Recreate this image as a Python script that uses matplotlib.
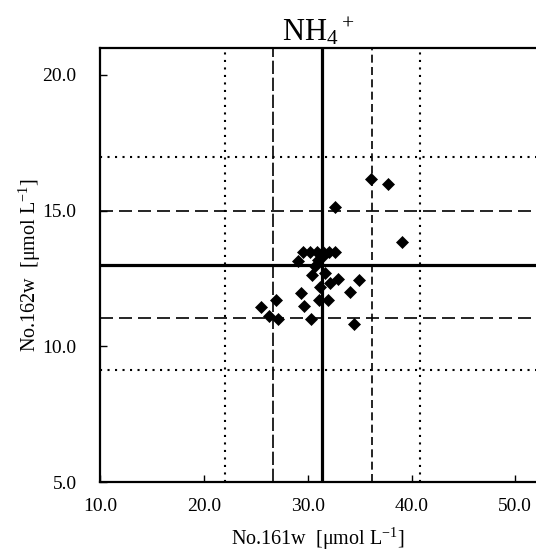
import matplotlib
matplotlib.use("Agg")
import matplotlib.pyplot as plt

plt.rcParams['font.family'] = ['Liberation Serif', 'DejaVu Serif']
plt.rcParams['mathtext.fontset'] = 'custom'
plt.rcParams['mathtext.rm'] = 'Liberation Serif'
plt.rcParams['mathtext.it'] = 'Liberation Serif:italic'

# No.161w (x) vs No.162w (y), umol/L
x161 = [36.08, 37.69, 32.64, 39.04, 29.50, 30.20, 30.85, 31.43, 32.06, 32.61,
        29.05, 31.00, 31.48, 30.68, 30.37, 31.65, 32.93, 32.13, 34.92, 31.17,
        29.34, 34.06, 31.10, 31.97, 26.90, 29.65, 25.45, 26.28, 27.09, 30.30,
        34.44]
y162 = [16.15, 15.96, 15.15, 13.84, 13.49, 13.49, 13.49, 13.49, 13.49, 13.49,
        13.16, 13.20, 13.32, 12.95, 12.64, 12.72, 12.50, 12.34, 12.46, 12.20,
        11.97, 12.02, 11.70, 11.70, 11.70, 11.50, 11.47, 11.13, 11.01, 11.01,
        10.82]

# reference lines: mean, +-2 sd (dashed), +-4 sd (dotted)
x_mean = 31.33
x_dash = [26.67, 36.20]
x_dot = [22.04, 40.85]
y_mean = 12.98
y_dash = [11.05, 14.99]
y_dot = [9.12, 16.98]

xticks = [10, 20, 30, 40, 50]
yticks = [5, 10, 15, 20]

fig = plt.figure(figsize=(5.36, 5.53), dpi=100)
ax = fig.add_axes([0.1871, 0.1277, 0.8129, 0.7864])

ax.axvline(x_mean, color='black', lw=2.3, zorder=2)
ax.axvline(x_dash[0], color='black', lw=1.2, ls=(0, (8, 2.2)), zorder=2)
ax.axvline(x_dash[1], color='black', lw=1.2, ls=(0, (4.8, 2.6)), zorder=2)
for v in x_dot:
    ax.axvline(v, color='black', lw=1.5, ls=(0, (1, 2.6)), zorder=2)

ax.axhline(y_mean, color='black', lw=2.3, zorder=2)
for v in y_dash:
    ax.axhline(v, color='black', lw=1.2, ls=(0, (7.8, 3.6)), zorder=2)
for v in y_dot:
    ax.axhline(v, color='black', lw=1.5, ls=(0, (1, 2.6)), zorder=2)

ax.plot(x161, y162, 'D', color='black', markersize=6, mew=0.5, zorder=3)

ax.set_xlim(10, 52)
ax.set_ylim(5, 21)
ax.set_xticks(xticks)
ax.set_yticks(yticks)
ax.set_xticklabels(['%.1f' % t for t in xticks])
ax.set_yticklabels(['%.1f' % t for t in yticks])
ax.tick_params(direction='in', length=5, width=1, labelsize=14)
ax.tick_params(axis='x', pad=11)
ax.tick_params(axis='y', pad=17)

ax.spines['right'].set_visible(False)
for s in ['left', 'bottom', 'top']:
    ax.spines[s].set_linewidth(1.6)

ax.set_xlabel('No.161w  [\u03bcmol L$^{\\mathregular{-1}}$]', fontsize=14.5, labelpad=8)
ax.set_ylabel('No.162w  [\u03bcmol L$^{\\mathregular{-1}}$]', fontsize=14.5, labelpad=0)
ax.set_title('NH$_4$$^+$', fontsize=22, pad=4)

fig.savefig('out.png', dpi=100)
